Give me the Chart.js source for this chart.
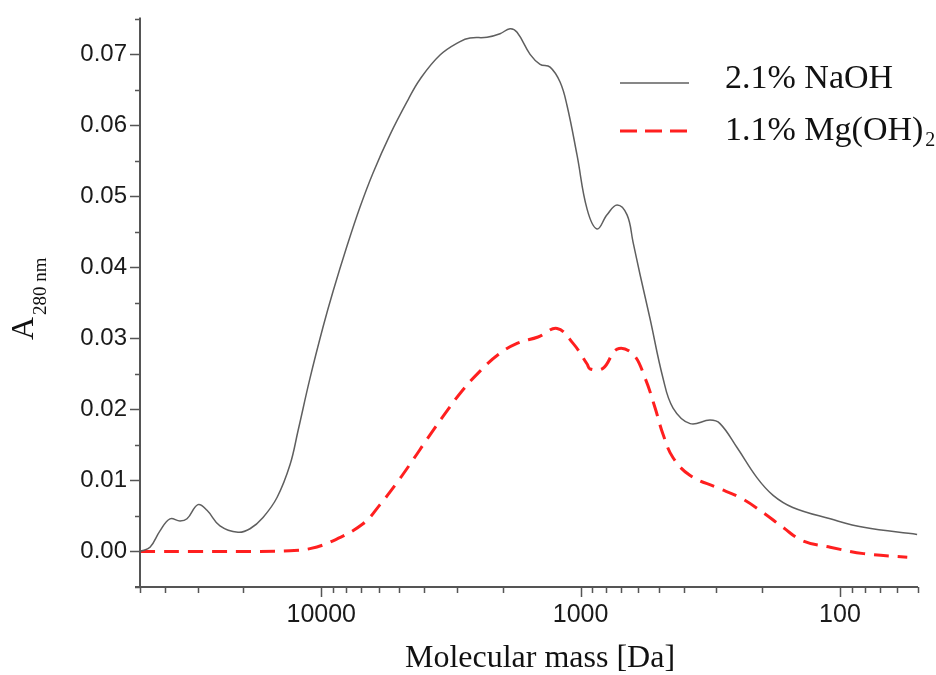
<!DOCTYPE html>
<html>
<head>
<meta charset="utf-8">
<script src="https://cdn.jsdelivr.net/npm/chart.js@4.4.1/dist/chart.umd.min.js"></script>
<style>
  html, body { margin: 0; padding: 0; background: #fff; }
  #wrap { width: 936px; height: 675px; }
</style>
</head>
<body>
<div id="wrap"><canvas id="c" width="936" height="675"></canvas></div>
<script>
// ---- data (molecular mass in Da, absorbance at 280 nm) ----
const massNaOH = [50000, 45750, 41870, 38310, 35050, 32940, 29880, 27580, 24580, 20940, 18830, 16770, 14810, 13200, 12290, 11050, 9845, 9010, 7958, 7088, 6316, 5429, 4628, 4160, 3484, 2917, 2669, 2295, 2045, 1871, 1758, 1566, 1433, 1311, 1200, 1128, 1032, 944, 864, 791, 723, 662, 628, 590, 540, 481, 440, 378, 317, 290, 249, 209, 181, 152, 109, 81, 50.4];
const absNaOH  = [0.0000, 0.0006, 0.0029, 0.0046, 0.0043, 0.0046, 0.0066, 0.0058, 0.0036, 0.0027, 0.0032, 0.0048, 0.0076, 0.0122, 0.0170, 0.0244, 0.0316, 0.0366, 0.0430, 0.0485, 0.0533, 0.0587, 0.0636, 0.0665, 0.0699, 0.0718, 0.0723, 0.0724, 0.0729, 0.0736, 0.0731, 0.0700, 0.0686, 0.0682, 0.0661, 0.0628, 0.0558, 0.0482, 0.0454, 0.0474, 0.0488, 0.0474, 0.0436, 0.0390, 0.0328, 0.0244, 0.0202, 0.0180, 0.0185, 0.0180, 0.0146, 0.0104, 0.0079, 0.0062, 0.0046, 0.0034, 0.0024];

const massMg = [50000, 29360, 17230, 13200, 11050, 9010, 6902, 5934, 5104, 4429, 3911, 3333, 2866, 2442, 2082, 1759, 1459, 1232, 1069, 944, 919, 819, 723, 628, 564, 516, 481, 440, 378, 298, 243, 198, 166, 139, 109, 81, 55];
const absMg  = [0.0000, 0.0000, 0.0000, 0.0001, 0.0004, 0.0015, 0.0039, 0.0066, 0.0097, 0.0129, 0.0158, 0.0194, 0.0226, 0.0254, 0.0277, 0.0293, 0.0302, 0.0314, 0.0293, 0.0264, 0.0257, 0.0258, 0.0285, 0.0278, 0.0244, 0.0202, 0.0165, 0.0132, 0.0107, 0.0090, 0.0076, 0.0055, 0.0034, 0.0015, 0.0006, -0.0003, -0.0008];

const seriesNames = ['2.1% NaOH', '1.1% Mg(OH)'];
const xMajorTicks = [10000, 1000, 100];
const yMajorTicks = [0, 0.01, 0.02, 0.03, 0.04, 0.05, 0.06, 0.07];
const xTitle = 'Molecular mass [Da]';

// ---- styles ----
const AXIS = '#555';
const BLACK = '#5f5f5f';
const RED = '#ff1f1f';
const SERIF = '"Liberation Serif", "Times New Roman", serif';
const SANS = '"Liberation Sans", Arial, sans-serif';

function xMinorTicks(min, max) {
  const t = [];
  for (let e = 1; e <= 5; e++) {
    for (let k = 1; k <= 9; k++) {
      const v = k * Math.pow(10, e);
      if (v >= min && v <= max && !xMajorTicks.includes(v)) t.push(v);
    }
  }
  return t;
}

const decorPlugin = {
  id: 'decor',
  afterDraw(chart) {
    const ctx = chart.ctx;
    const xs = chart.scales.x, ys = chart.scales.y;
    const a = chart.chartArea;
    ctx.save();
    // axis lines
    ctx.strokeStyle = AXIS;
    ctx.lineWidth = 2;
    ctx.beginPath();
    ctx.moveTo(a.left, a.top);
    ctx.lineTo(a.left, a.bottom + 1);
    ctx.moveTo(a.left - 5, a.bottom);
    ctx.lineTo(a.right, a.bottom);
    ctx.stroke();
    // y ticks
    ctx.lineWidth = 1.5;
    ctx.beginPath();
    for (let i = -1; i <= 15; i++) {
      const v = i * 0.005;
      const py = Math.round(ys.getPixelForValue(v)) + 0.5;
      const major = (i % 2 === 0) && i >= 0 && i <= 14;
      ctx.moveTo(a.left - (major ? 10 : 5), py);
      ctx.lineTo(a.left, py);
    }
    // x ticks
    xMajorTicks.forEach(v => {
      const px = Math.round(xs.getPixelForValue(v)) + 0.5;
      ctx.moveTo(px, a.bottom);
      ctx.lineTo(px, a.bottom + 10);
    });
    xMinorTicks(xs.min, xs.max).forEach(v => {
      const px = Math.round(xs.getPixelForValue(v)) + 0.5;
      ctx.moveTo(px, a.bottom);
      ctx.lineTo(px, a.bottom + 6);
    });
    ctx.stroke();

    // x title
    ctx.fillStyle = '#111';
    ctx.font = '32px ' + SERIF;
    ctx.textAlign = 'center';
    ctx.textBaseline = 'alphabetic';
    ctx.fillText(xTitle, 540, 667);

    // y title (A with subscript 280 nm), rotated
    ctx.save();
    ctx.translate(33, 340);
    ctx.rotate(-Math.PI / 2);
    ctx.textAlign = 'left';
    ctx.font = '32px ' + SERIF;
    ctx.fillText('A', 0, 0);
    ctx.font = '19px ' + SERIF;
    ctx.fillText('280 nm', 25, 13);
    ctx.restore();

    // legend
    ctx.textAlign = 'left';
    ctx.lineCap = 'butt';
    ctx.strokeStyle = BLACK;
    ctx.lineWidth = 1.5;
    ctx.setLineDash([]);
    ctx.beginPath();
    ctx.moveTo(620, 83); ctx.lineTo(689, 83);
    ctx.stroke();
    ctx.strokeStyle = RED;
    ctx.lineWidth = 3;
    ctx.setLineDash([17, 8]);
    ctx.beginPath();
    ctx.moveTo(620, 131); ctx.lineTo(688, 131);
    ctx.stroke();
    ctx.setLineDash([]);
    ctx.fillStyle = '#111';
    ctx.font = '34px ' + SERIF;
    ctx.fillText(chart.data.datasets[0].label, 725, 88);
    ctx.fillText(seriesNames[1], 725, 140);
    const w = ctx.measureText(seriesNames[1]).width;
    ctx.font = '20px ' + SERIF;
    ctx.fillText('2', 727 + w, 146);
    ctx.restore();
  }
};

new Chart(document.getElementById('c'), {
  type: 'line',
  data: {
    datasets: [
      {
        label: seriesNames[0],
        data: massNaOH.map((m, i) => ({ x: m, y: absNaOH[i] })),
        borderColor: BLACK,
        borderWidth: 1.5,
        pointRadius: 0,
        tension: 0.4,
        fill: false
      },
      {
        label: seriesNames[1] + '2',
        data: massMg.map((m, i) => ({ x: m, y: absMg[i] })),
        borderColor: RED,
        borderWidth: 3,
        borderDash: [15, 9],
        pointRadius: 0,
        tension: 0.4,
        fill: false
      }
    ]
  },
  options: {
    responsive: false,
    devicePixelRatio: 1,
    animation: false,
    layout: { padding: { top: 15, right: 18, left: 0, bottom: 0 } },
    plugins: { legend: { display: false }, tooltip: { enabled: false } },
    scales: {
      x: {
        type: 'logarithmic',
        reverse: true,
        min: 50,
        max: 50000,
        border: { display: false },
        grid: { drawOnChartArea: false, drawTicks: true, tickLength: 10, color: 'rgba(0,0,0,0)' },
        afterBuildTicks: s => { s.ticks = xMajorTicks.map(v => ({ value: v })); },
        afterFit: s => { s.height = 88; },
        ticks: {
          autoSkip: false,
          maxRotation: 0,
          padding: 3,
          color: '#1a1a1a',
          font: { family: SANS, size: 25 },
          callback: v => String(v)
        }
      },
      y: {
        min: -0.005,
        max: 0.0752,
        border: { display: false },
        grid: { drawOnChartArea: false, drawTicks: true, tickLength: 10, color: 'rgba(0,0,0,0)' },
        afterBuildTicks: s => { s.ticks = yMajorTicks.map(v => ({ value: v })); },
        afterFit: s => { s.width = 140; },
        ticks: {
          padding: 3,
          color: '#1a1a1a',
          font: { family: SANS, size: 24 },
          callback: v => Number(v).toFixed(2)
        }
      }
    }
  },
  plugins: [decorPlugin]
});
</script>
</body>
</html>
